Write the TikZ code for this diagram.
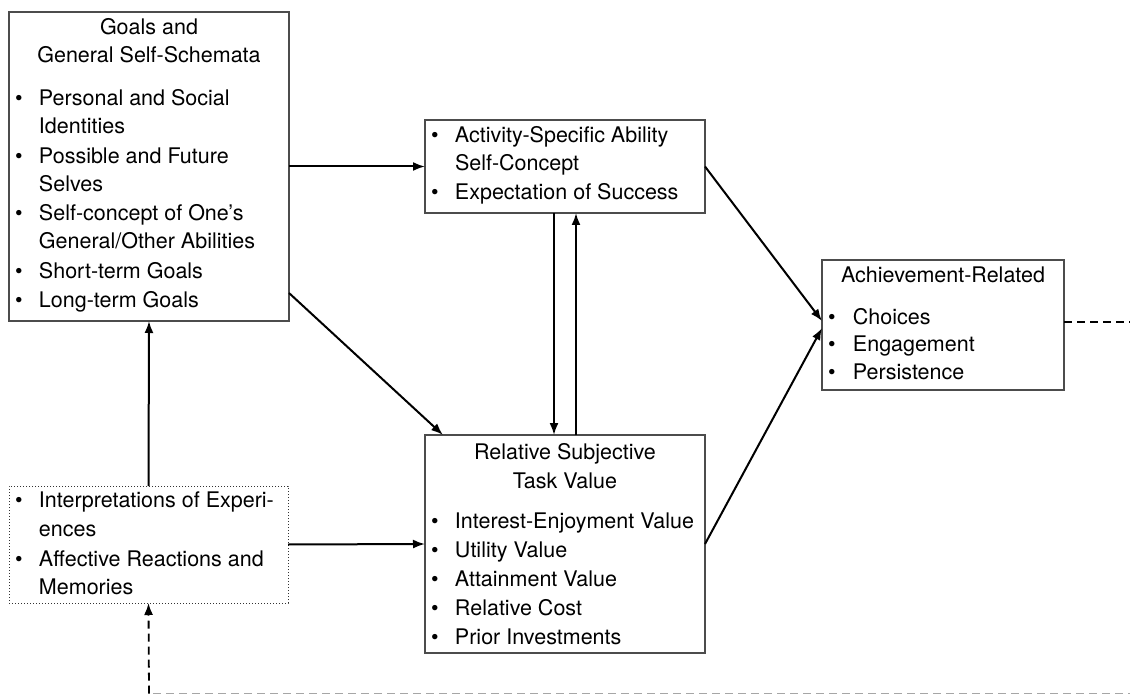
\documentclass[tikz,border=0pt]{standalone}
\usepackage{fontspec}
\setmainfont{TeX Gyre Heros}
\usetikzlibrary{arrows.meta,calc}
\newcommand\mybul[1][24pt]{\makebox[#1][l]{\textbullet}}
\newcommand\myind[1][24pt]{\hspace*{#1}}
\tikzset{
  box/.style={draw=black!70, line width=1.3pt, rectangle, inner sep=0pt, outer sep=0pt},
  dotbox/.style={draw=black!80, line width=1pt, dotted, rectangle, inner sep=0pt, outer sep=0pt},
  txt/.style={inner sep=0pt, outer sep=0pt, font=\fontsize{21.5pt}{28pt}\selectfont},
  tip/.style={-{Latex[length=12pt,width=9pt]}},
  arr/.style={line width=2pt, tip},
  dashline/.style={line width=1.8pt, dash pattern=on 8pt off 5pt},
  graydash/.style={line width=1.8pt, draw=black!35, dash pattern=on 8pt off 5pt}
}
\begin{document}
\begin{tikzpicture}[x=1pt,y=-1pt]
\useasboundingbox (0,0) rectangle (1130,695);
% boxes
\node[box, minimum width=280pt, minimum height=309pt] (goals) at (149,166.5) {};
\node[box, minimum width=280pt, minimum height=93pt] (act) at (565,166.5) {};
\node[box, minimum width=242pt, minimum height=130pt] (ach) at (943,325) {};
\node[box, minimum width=280pt, minimum height=218pt] (rel) at (565,544) {};
\node[dotbox, minimum width=279pt, minimum height=117pt] (interp) at (148.5,544.5) {};
% texts
\node[txt, anchor=base] (goalsT) at (149,35) {\begin{tabular}[t]{@{}c@{}}Goals and\\General Self-Schemata\end{tabular}};
\node[txt, anchor=base west] (goalsL) at (15,106) {\begin{tabular}[t]{@{}l@{}}
\mybul Personal and Social\\ \myind Identities\\[1.5pt]
\mybul Possible and Future\\ \myind Selves\\[1.5pt]
\mybul Self-concept of One’s\\ \myind General/Other Abilities\\[1.5pt]
\mybul Short-term Goals\\[1.5pt]
\mybul Long-term Goals\end{tabular}};
\node[txt, anchor=base west] (actL) at (431,143) {\begin{tabular}[t]{@{}l@{}}
\mybul Activity-Specific Ability\\ \myind Self-Concept\\[1pt]
\mybul Expectation of Success\end{tabular}};
\node[txt, anchor=base] (achT) at (943,282) {Achievement-Related};
\node[txt, anchor=base west] (achL) at (828,324) {\begin{tabular}[t]{@{}l@{}}
\mybul[19pt] Choices\\[-1pt]
\mybul[19pt] Engagement\\
\mybul[19pt] Persistence\end{tabular}};
\node[txt, anchor=base] (relT) at (565,459) {\begin{tabular}[t]{@{}c@{}}Relative Subjective\\[1pt]Task Value\end{tabular}};
\node[txt, anchor=base west] (relL) at (431,528) {\begin{tabular}[t]{@{}l@{}}
\mybul Interest-Enjoyment Value\\[1pt]
\mybul Utility Value\\[1pt]
\mybul Attainment Value\\[1pt]
\mybul Relative Cost\\[1pt]
\mybul Prior Investments\end{tabular}};
\node[txt, anchor=base west] (interpL) at (15,507) {\begin{tabular}[t]{@{}l@{}}
\mybul Interpretations of Experi-\\[1.5pt] \myind ences\\[1.5pt]
\mybul Affective Reactions and\\ \myind Memories\end{tabular}};
% free ends
\coordinate (rightend) at (1130,322);
\coordinate (bl) at (149,693.5);
\coordinate (blg) at (153,693.5);
\coordinate (br) at (1130,693.5);
% connectors
\draw[arr] (act.west -| goals.east) -- (act.west);
\draw[arr] ($(goals.south east)+(0,-28)$) -- ($(rel.north west)+(18,0)$);
\draw[arr] ([xshift=-11pt]act.south) -- ([xshift=-11pt]rel.north);
\draw[arr] ([xshift=11pt]rel.north) -- ([xshift=11pt]act.south);
\draw[arr] (act.east) -- ([yshift=4pt]ach.west);
\draw[arr] (rel.east) -- ([yshift=-3pt]ach.west);
\draw[arr] (interp.east) -- (rel.west);
\draw[arr] (interp.north) -- (goals.south);
\draw[dashline] ([yshift=3pt]ach.east) -- (rightend);
\draw[graydash] (blg) -- (br);
\draw[dashline, tip] (bl) -- (interp.south);
\end{tikzpicture}
\end{document}
